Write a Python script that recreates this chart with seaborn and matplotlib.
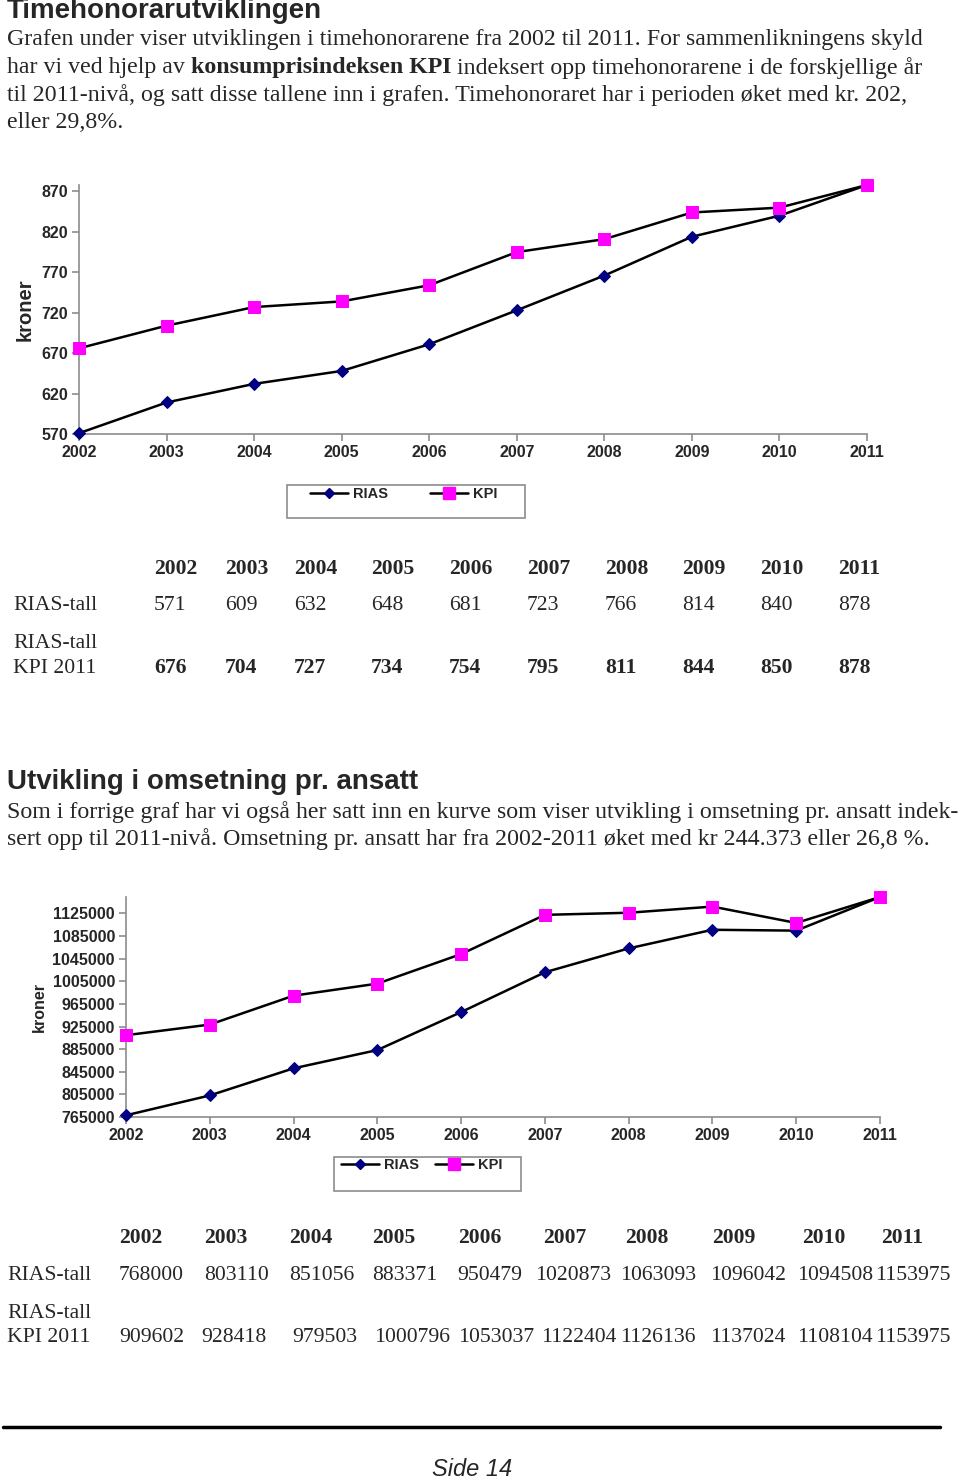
import numpy as np
import pandas as pd
import matplotlib
matplotlib.use('Agg')
import matplotlib.pyplot as plt
import seaborn as sns
from matplotlib.lines import Line2D
from matplotlib.patches import Rectangle

sns.set_style('white')
plt.rcParams['font.family'] = ['Liberation Sans', 'DejaVu Sans']

# data
years = [2002, 2003, 2004, 2005, 2006, 2007, 2008, 2009, 2010, 2011]
rias_honorar = [571, 609, 632, 648, 681, 723, 766, 814, 840, 878]
kpi_honorar = [676, 704, 727, 734, 754, 795, 811, 844, 850, 878]
honorar_ticks = [570, 620, 670, 720, 770, 820, 870]

rias_omsetning = [768000, 803110, 851056, 883371, 950479, 1020873, 1063093, 1096042, 1094508, 1153975]
kpi_omsetning = [909602, 928418, 979503, 1000796, 1053037, 1122404, 1126136, 1137024, 1108104, 1153975]
omsetning_ticks = [765000, 805000, 845000, 885000, 925000, 965000, 1005000, 1045000, 1085000, 1125000]

W, H = 960, 1480
fig = plt.figure(figsize=(W / 100, H / 100), dpi=100)
fig.patch.set_facecolor('white')

def fx(x):
    return x / W

def fy(y):
    return 1 - y / H

serif = ['Liberation Serif', 'DejaVu Serif']
body_size = 17.2
table_size = 15.6
head_size = 20

# text section 1
fig.text(fx(7), fy(11), 'Timehonorarutviklingen', fontsize=head_size, fontweight='bold', va='center', ha='left')
para1 = [
    'Grafen under viser utviklingen i timehonorarene fra 2002 til 2011. For sammenlikningens skyld',
    None,
    'til 2011-nivå, og satt disse tallene inn i grafen. Timehonoraret har i perioden øket med kr. 202,',
    'eller 29,8%.',
]
line_y = [40, 68, 95, 123]
for txt, y in zip(para1, line_y):
    if txt is not None:
        fig.text(fx(7), fy(y), txt, fontsize=body_size, family=serif, va='center', ha='left')
# mixed bold line
t1 = fig.text(fx(7), fy(68), 'har vi ved hjelp av ', fontsize=body_size, family=serif, va='center', ha='left')
fig.canvas.draw()
r = fig.canvas.get_renderer()
bb = t1.get_window_extent(r)
t2 = fig.text(bb.x1 / W, fy(68), 'konsumprisindeksen KPI', fontsize=body_size, family=serif,
              fontweight='bold', va='center', ha='left')
bb2 = t2.get_window_extent(r)
fig.text(bb2.x1 / W, fy(68), ' indeksert opp timehonorarene i de forskjellige år', fontsize=body_size,
         family=serif, va='center', ha='left')


def style_axis(ax, ticks, ylim):
    ax.set_xlim(years[0], years[-1])
    ax.set_ylim(*ylim)
    for s in ['top', 'right']:
        ax.spines[s].set_visible(False)
    for s in ['left', 'bottom']:
        ax.spines[s].set_color('#8c8c8c')
        ax.spines[s].set_linewidth(1.2)
    ax.set_xticks(years)
    ax.set_xticklabels([str(y) for y in years], fontsize=11.5, fontweight='bold')
    ax.set_yticks(ticks)
    ax.set_yticklabels([str(t) for t in ticks], fontsize=11.5, fontweight='bold')
    ax.tick_params(axis='both', direction='out', length=5, width=1.2, color='#8c8c8c', pad=3,
                   bottom=True, left=True)
    ax.grid(False)
    ax.set_xlabel('')


def draw_lines(ax, rias, kpi):
    df = pd.DataFrame({'year': years, 'RIAS': rias, 'KPI': kpi})
    sns.lineplot(data=df, x='year', y='RIAS', ax=ax, color='black', linewidth=1.8,
                 marker='D', markersize=6, markerfacecolor='#000080', markeredgecolor='#000080',
                 clip_on=False, zorder=3)
    sns.lineplot(data=df, x='year', y='KPI', ax=ax, color='black', linewidth=1.8,
                 marker='s', markersize=8.5, markerfacecolor='#ff00ff', markeredgecolor='#ff00ff',
                 clip_on=False, zorder=3)


def legend_box(x0, x1, y0, y1, text_y, cx, size, colspace):
    fig.patches.append(Rectangle((fx(x0), fy(y1)), fx(x1 - x0), (y1 - y0) / H, transform=fig.transFigure,
                                 facecolor='white', edgecolor='#8c8c8c', linewidth=1.2))
    handles = [
        Line2D([], [], color='black', linewidth=1.8, marker='D', markersize=5.5,
               markerfacecolor='#000080', markeredgecolor='#000080'),
        Line2D([], [], color='black', linewidth=1.8, marker='s', markersize=8,
               markerfacecolor='#ff00ff', markeredgecolor='#ff00ff'),
    ]
    leg = fig.legend(handles, ['RIAS', 'KPI'], loc='center', ncol=2, frameon=False,
                     bbox_to_anchor=(fx(cx), fy(text_y)),
                     prop={'weight': 'bold', 'size': size}, handlelength=2.6, handletextpad=0.35,
                     columnspacing=colspace)
    return leg


# chart 1
ax1 = fig.add_axes([fx(79), fy(434), fx(867 - 79), (434 - 185) / H])
draw_lines(ax1, rias_honorar, kpi_honorar)
style_axis(ax1, honorar_ticks, (570, 878))
ax1.set_ylabel('kroner', fontsize=14.5, fontweight='bold', labelpad=5)
legend_box(287, 525, 485, 518, 494, 404, 10.5, 2.9)

# table 1
col1 = [154, 225, 294, 371, 449, 527, 605, 682, 760, 838]
for x, yr, a, b in zip(col1, years, rias_honorar, kpi_honorar):
    fig.text(fx(x), fy(569), str(yr), fontsize=table_size, family=serif, fontweight='bold', va='center')
    fig.text(fx(x), fy(606), str(a), fontsize=table_size, family=serif, va='center')
    fig.text(fx(x), fy(668), str(b), fontsize=table_size, family=serif, fontweight='bold', va='center')
fig.text(fx(13), fy(606), 'RIAS-tall', fontsize=table_size, family=serif, va='center')
fig.text(fx(13), fy(643), 'RIAS-tall', fontsize=table_size, family=serif, va='center')
fig.text(fx(13), fy(668), 'KPI 2011', fontsize=table_size, family=serif, va='center')

# text section 2
fig.text(fx(7), fy(782), 'Utvikling i omsetning pr. ansatt', fontsize=head_size, fontweight='bold', va='center')
fig.text(fx(7), fy(812), 'Som i forrige graf har vi også her satt inn en kurve som viser utvikling i omsetning pr. ansatt indek-',
         fontsize=body_size, family=serif, va='center')
fig.text(fx(7), fy(839), 'sert opp til 2011-nivå. Omsetning pr. ansatt har fra 2002-2011 øket med kr 244.373 eller 26,8 %.',
         fontsize=body_size, family=serif, va='center')

# chart 2
ax2 = fig.add_axes([fx(126), fy(1117), fx(880 - 126), (1117 - 897) / H])
draw_lines(ax2, rias_omsetning, kpi_omsetning)
style_axis(ax2, omsetning_ticks, (765000, 1153975))
ax2.set_ylabel('kroner', fontsize=11.5, fontweight='bold', labelpad=4)
legend_box(334, 521, 1157, 1191, 1165, 422, 10.5, 1.1)

# table 2
col2_head = [119, 204, 289, 372, 458, 543, 625, 712, 802, 881]
col2_a = [119, 204, 289, 372, 457, 535, 620, 710, 797, 875]
col2_b = [119, 201, 292, 374, 458, 541, 620, 710, 797, 875]
for i, yr in enumerate(years):
    fig.text(fx(col2_head[i]), fy(1238), str(yr), fontsize=table_size, family=serif, fontweight='bold', va='center')
    fig.text(fx(col2_a[i]), fy(1276), str(rias_omsetning[i]), fontsize=table_size, family=serif, va='center')
    fig.text(fx(col2_b[i]), fy(1338), str(kpi_omsetning[i]), fontsize=table_size, family=serif, va='center')
fig.text(fx(7), fy(1276), 'RIAS-tall', fontsize=table_size, family=serif, va='center')
fig.text(fx(7), fy(1313), 'RIAS-tall', fontsize=table_size, family=serif, va='center')
fig.text(fx(7), fy(1338), 'KPI 2011', fontsize=table_size, family=serif, va='center')

# footer
fig.add_artist(Line2D([fx(3), fx(940)], [fy(1427), fy(1427)], color='black', linewidth=2.5,
                      transform=fig.transFigure))
fig.text(fx(472), fy(1469), 'Side 14', fontsize=17, style='italic', ha='center', va='center')

fig.savefig('out.png', dpi=100, facecolor='white')
